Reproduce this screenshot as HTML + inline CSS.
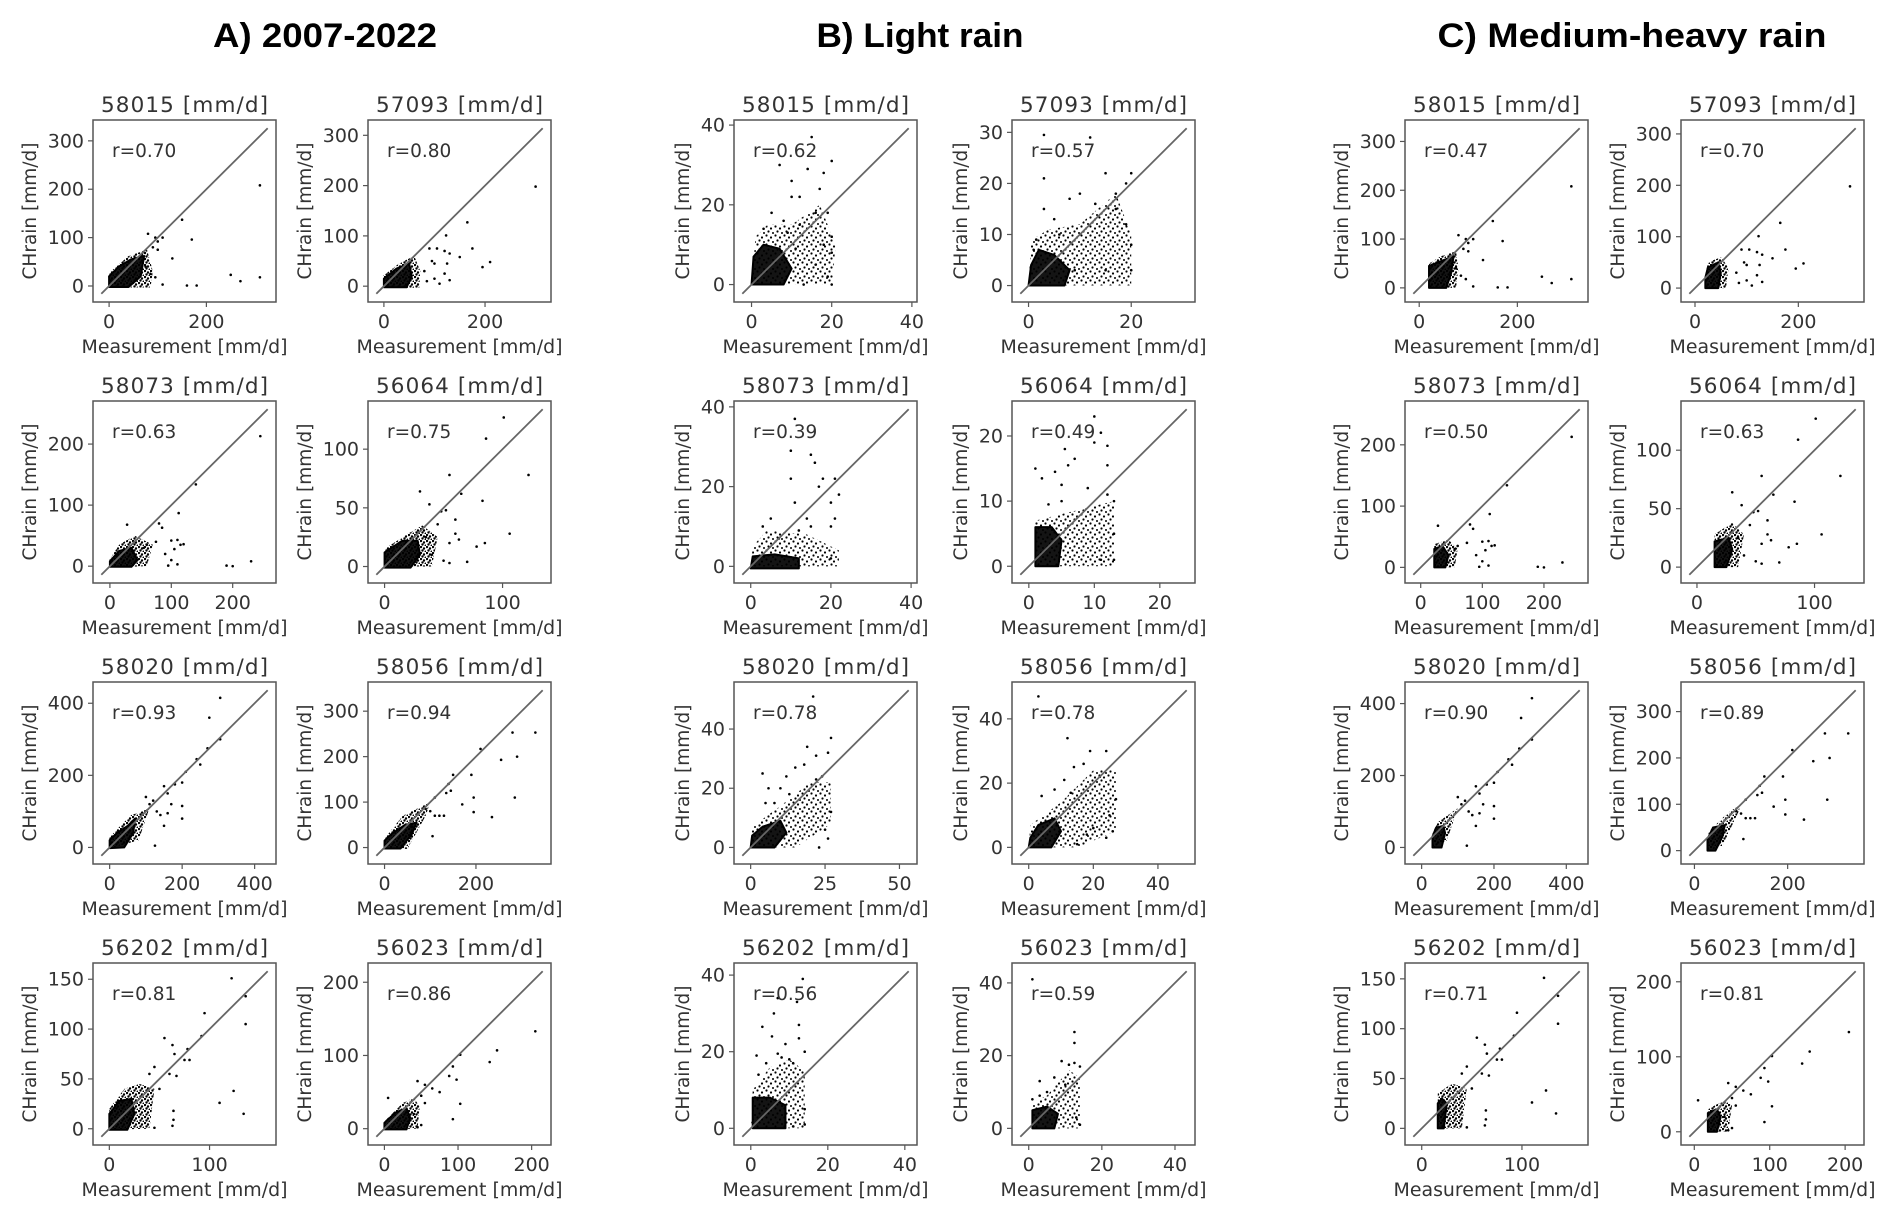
<!DOCTYPE html>
<html><head><meta charset="utf-8">
<style>
html,body{margin:0;padding:0;background:#fff;}
svg{display:block;font-family:"DejaVu Sans","Liberation Sans",sans-serif;}
</style></head>
<body>
<svg id="fig" width="1892" height="1217" viewBox="0 0 1892 1217" xmlns="http://www.w3.org/2000/svg">
<defs>
<pattern id="dotsSparse" width="9" height="9" patternUnits="userSpaceOnUse">
<circle cx="1.5" cy="1.5" r="1.1" fill="#000"/><circle cx="6" cy="3.5" r="1.1" fill="#000"/><circle cx="3.5" cy="6.5" r="1.1" fill="#000"/><circle cx="8" cy="8" r="1" fill="#000"/>
</pattern>
<pattern id="dotsDense" width="6" height="6" patternUnits="userSpaceOnUse">
<circle cx="1" cy="1" r="1.2" fill="#000"/><circle cx="4" cy="2.5" r="1.2" fill="#000"/><circle cx="2.5" cy="4.5" r="1.2" fill="#000"/><circle cx="5.5" cy="5.5" r="1" fill="#000"/>
</pattern>
</defs>
<rect width="1892" height="1217" fill="#fff"/>
<text x="325" y="47" text-anchor="middle" font-family="Liberation Sans, sans-serif" font-weight="bold" font-size="34" textLength="224" lengthAdjust="spacingAndGlyphs" fill="#000">A) 2007-2022</text>
<text x="920" y="47" text-anchor="middle" font-family="Liberation Sans, sans-serif" font-weight="bold" font-size="34" textLength="207" lengthAdjust="spacingAndGlyphs" fill="#000">B) Light rain</text>
<text x="1632" y="47" text-anchor="middle" font-family="Liberation Sans, sans-serif" font-weight="bold" font-size="34" textLength="389" lengthAdjust="spacingAndGlyphs" fill="#000">C) Medium-heavy rain</text>
</svg>
<script>
// ---------- data ----------
const stations = ['58015','57093','58073','56064','58020','58056','56202','56023'];
const rA = ['0.70','0.80','0.63','0.75','0.93','0.94','0.81','0.86'];
const rB = ['0.62','0.57','0.39','0.49','0.78','0.78','0.56','0.59'];
const rC = ['0.47','0.70','0.50','0.63','0.90','0.89','0.71','0.81'];
const loA = [-16,-15,-14,-7,-23,-18,-8,-11];
const hiA = [326,314,257,134,436,346,158,215];
const loB = [-2.3,-1.6,-2.1,-1.3,-2.8,-2.6,-2.2,-2.3];
const hiB = [39.2,30.8,39.4,24.1,53.1,48.9,41,43.2];
const loC = [-12,-11,-12,-6.5,-23,-11,-8.4,-6.6];
const hiC = [327,311,258,135,437,346,157.6,214];
const xticksA = [[0,200],[0,200],[0,100,200],[0,100],[0,200,400],[0,200],[0,100],[0,100,200]];
const yticksA = [[0,100,200,300],[0,100,200,300],[0,100,200],[0,50,100],[0,200,400],[0,100,200,300],[0,50,100,150],[0,100,200]];
const xticksB = [[0,20,40],[0,20],[0,20,40],[0,10,20],[0,25,50],[0,20,40],[0,20,40],[0,20,40]];
const yticksB = [[0,20,40],[0,10,20,30],[0,20,40],[0,10,20],[0,20,40],[0,20,40],[0,20,40],[0,20,40]];

const coreA = [
 [[0,-2],[40,-2],[65,20],[72,62],[45,55],[20,40],[0,20]],
 [[0,-2],[45,-2],[55,20],[50,45],[25,35],[0,15]],
 [[0,-1],[35,-1],[45,10],[35,30],[15,25],[0,8]],
 [[0,-1],[22,-1],[30,10],[28,22],[15,22],[0,12]],
 [[0,-2],[40,0],[65,40],[70,80],[50,60],[20,40],[0,20]],
 [[0,-2],[35,-2],[60,30],[70,55],[45,50],[15,30],[0,15]],
 [[0,-1],[18,-1],[25,15],[22,30],[10,28],[0,15]],
 [[0,-1],[30,-1],[35,15],[30,28],[15,22],[0,8]]
];
const haloA = [
 [[0,-3],[85,-3],[90,30],[78,75],[40,62],[-2,25]],
 [[0,-3],[70,-3],[72,30],[60,60],[30,45],[-2,20]],
 [[0,-2],[60,0],[70,35],[40,50],[15,35],[-1,10]],
 [[0,0],[40,0],[45,25],[32,35],[20,28],[0,15]],
 [[0,-3],[80,20],[110,110],[90,100],[60,90],[20,50],[-2,25]],
 [[0,-3],[50,-3],[90,70],[100,100],[80,90],[40,70],[0,20]],
 [[0,-1],[40,0],[45,40],[30,45],[15,40],[0,20]],
 [[0,-1],[45,0],[48,30],[40,42],[25,35],[0,10]]
];
const ptsA = [
 [[310,208],[150,137],[170,96],[130,57],[250,23],[270,10],[310,18],[160,1],[180,1],[110,3],[80,108],[95,100],[110,100],[100,92],[90,80],[95,18],[100,75],[70,70],[75,40],[85,25]],
 [[300,198],[165,127],[123,101],[175,75],[210,48],[195,38],[150,58],[95,50],[100,45],[105,75],[120,70],[125,45],[130,65],[90,75],[120,25],[100,15],[130,12],[85,10],[110,5],[80,30]],
 [[245,213],[140,134],[112,87],[80,70],[85,63],[28,68],[190,1],[200,0],[230,8],[110,43],[100,42],[105,28],[115,35],[120,36],[95,1],[110,3],[75,40],[60,35],[55,30],[90,20],[100,10]],
 [[101,127],[86,109],[55,78],[122,78],[65,62],[30,64],[38,53],[83,56],[52,48],[48,47],[60,40],[45,36],[60,28],[55,20],[63,23],[78,17],[85,20],[106,28],[70,4],[55,3],[50,5],[40,10],[35,25]],
 [[305,415],[275,360],[305,300],[270,275],[240,245],[250,230],[210,210],[200,180],[180,175],[150,170],[160,150],[200,115],[200,80],[160,95],[150,60],[125,5],[140,90],[170,120],[120,130],[110,120],[100,140],[130,100]],
 [[330,253],[280,253],[210,217],[190,160],[290,200],[255,193],[195,110],[285,110],[235,67],[195,78],[170,95],[150,160],[140,140],[135,120],[145,125],[110,110],[120,70],[130,70],[105,25],[90,85],[100,80],[60,45],[110,70]],
 [[122,151],[95,116],[136,133],[136,105],[92,93],[63,84],[55,91],[65,75],[78,80],[75,69],[80,69],[67,53],[60,55],[45,62],[50,40],[64,18],[64,9],[63,3],[45,1],[110,26],[124,38],[134,15],[40,55]],
 [[205,133],[153,107],[143,91],[103,101],[93,85],[88,72],[98,67],[103,34],[93,13],[75,50],[65,55],[55,60],[45,65],[55,35],[50,45],[5,42],[40,20],[50,5],[45,2]]
];

const coreB = [
 [[0,0],[8,0],[10,4],[7,9],[3,10],[0.5,7]],
 [[0,0],[7,0],[8,3],[5,6],[2,7],[0.5,4]],
 [[0,-0.5],[12,-0.5],[12,2],[6,3],[0.5,2.5]],
 [[1,0],[4.5,0],[5,4],[3.5,6],[1,6]],
 [[0,0],[8,0],[12,5],[10,9],[4,7],[0.5,4]],
 [[0,0],[7,0],[10,5],[8,9],[3,7],[0.5,3]],
 [[0.5,0],[9,0],[9,6],[5,8],[0.5,8]],
 [[1,0],[7,0],[8,4],[5,6],[1,5]]
];
const haloB = [
 [[0,0],[20,0],[21,10],[17,20],[10,15],[4,15],[1,12]],
 [[0,0],[20,0],[20,10],[17,18],[10,12],[4,11],[0.5,9]],
 [[0,0],[22,0],[22,4],[14,8],[4,9],[0.5,5]],
 [[1,0],[13,0],[13,10],[9,9],[5,8],[1,7]],
 [[0,0],[15,0],[27,8],[27,22],[20,22],[10,14],[0.5,7]],
 [[0,0],[15,0],[27,5],[27,24],[20,24],[10,14],[0.5,7]],
 [[0,0],[14,0],[14,15],[10,18],[5,16],[0.5,10]],
 [[1,0],[14,0],[14,14],[11,16],[5,9],[1,7]]
];
const ptsB = [
 [[15,37],[20,31],[7,30],[14,29],[18,28],[10,26],[10,22],[12,22],[17,24],[16,18],[19,18],[5,18],[12,15],[3,14],[8,16],[20,12],[18,10],[20,8],[16,5],[19,2],[20,0],[13,0],[9,13],[11,9]],
 [[3,29.5],[12,29],[3,21],[15,22],[20,22],[19,20],[10,18],[13,16],[17,18],[3,15],[8,17],[5,13],[6,10],[19,12],[17,15],[20,8],[20,3],[15,3],[9,3],[1,7],[1.5,9]],
 [[11,37],[10,29],[15,28],[16,26],[10,22],[18,22],[21,22],[17,20],[22,18],[20,16],[11,16],[14,12],[21,12],[5,12],[3,10],[12,9],[15,10],[20,10],[20,2],[7,7]],
 [[10,23],[12,18.5],[10,19],[11,20.5],[5.5,18],[7,16.5],[6,15.5],[1,15],[2,13.5],[4,14.5],[5,12.5],[12,15.5],[9,12],[12,11],[13,10],[5,10],[3,9.5],[13,5],[13,1],[11,1]],
 [[21,51],[27,37],[26,32],[22,31],[19,34],[18,28],[15,27],[12,24],[4,25],[24,24],[22,23],[25,6],[23,0],[26,3],[27,12],[10,20],[6,20],[13,18],[5,15],[8,15]],
 [[3,47],[12,34],[14,25],[19,30],[24,30],[17,26],[22,22],[11,21],[4,16],[8,18],[13,17],[27,15],[25,10],[26,5],[24,3],[20,6],[15,1],[18,4]],
 [[13.5,39],[7,34],[12,33],[6,30],[12.5,27],[3,26.5],[5.5,24],[12.5,23.5],[9,22],[14,20],[1.5,19],[7,19.5],[8,18.5],[10,18],[4,17],[11,17],[2,14],[14,5],[14,1],[11,0.5]],
 [[1,41],[12.5,26.5],[12.5,23.5],[9,18.5],[12.5,18],[11,17.5],[14,17],[3,13],[7,14],[5,10],[10,12],[1,8],[3,9],[14,1],[13,3]]
];

const coreC = [
 [[20,0],[55,0],[65,30],[70,65],[45,55],[20,45]],
 [[20,0],[45,0],[50,30],[45,50],[25,40],[20,20]],
 [[22,0],[40,0],[45,20],[35,35],[22,30]],
 [[15,0],[25,0],[30,15],[27,25],[15,22]],
 [[30,0],[55,0],[65,40],[60,60],[40,55],[30,30]],
 [[28,0],[45,0],[60,30],[65,55],[40,50],[28,25]],
 [[16,0],[22,0],[25,25],[20,30],[16,25]],
 [[18,0],[30,0],[35,20],[30,30],[18,25]]
];
const haloC = [
 [[20,0],[75,0],[80,40],[75,75],[45,65],[20,50]],
 [[20,0],[60,0],[65,40],[50,60],[25,50],[20,25]],
 [[22,0],[55,0],[60,30],[45,45],[22,38]],
 [[15,0],[35,0],[40,28],[30,38],[15,28]],
 [[30,0],[70,20],[100,110],[80,95],[45,70],[30,40]],
 [[28,0],[60,10],[95,85],[100,100],[70,80],[30,40]],
 [[16,0],[40,0],[45,40],[30,45],[16,35]],
 [[18,0],[45,0],[50,35],[40,42],[18,30]]
];
const ptsC = ptsA;

// ---------- layout ----------
const colX = {A:[93,368], B:[734,1012], C:[1405,1681]};
const rowY = [120,401,682,963];
const W = 183, H = 182;
const svg = document.getElementById('fig');
const NS = 'http://www.w3.org/2000/svg';
function mk(tag, attrs, parent){
  const e = document.createElementNS(NS, tag);
  for (const k in attrs) e.setAttribute(k, attrs[k]);
  (parent||svg).appendChild(e);
  return e;
}
let clipId = 0;
function drawSub(panel, i, r, lo, hi, xt, yt, core, halo, pts, haloFill){
  const x0 = colX[panel][i%2], y0 = rowY[Math.floor(i/2)];
  const m = 0.05*(hi-lo), dmin = lo-m, dmax = hi+m;
  const sx = v => x0 + (v-dmin)/(dmax-dmin)*W;
  const sy = v => y0 + H - (v-dmin)/(dmax-dmin)*H;
  const g = mk('g', {});
  
  
  const id = 'clip'+(clipId++);
  const cp = mk('clipPath', {id:id}, g);
  mk('rect', {x:x0, y:y0, width:W, height:H}, cp);
  const plot = mk('g', {'clip-path':'url(#'+id+')'}, g);
  const hp = mk('polygon', {points: halo.map(p=>sx(p[0])+','+sy(p[1])).join(' '), fill:'url(#'+haloFill+')'}, plot);
  
  
  const cpoly = mk('polygon', {points: core.map(p=>sx(p[0])+','+sy(p[1])).join(' '), fill:'#000', 'fill-opacity':0.92, stroke:'#000', 'stroke-width':2, 'stroke-linejoin':'round'}, plot);
  
  
  pts.forEach(p=>{
    const c = mk('circle', {cx:sx(p[0]), cy:sy(p[1]), r:1.3, fill:'#000'}, plot);
    
    
  });
  const ln = mk('line', {x1:sx(lo), y1:sy(lo), x2:sx(hi), y2:sy(hi), stroke:'#666', 'stroke-width':1.8}, plot);
  
  
  const fr = mk('rect', {x:x0, y:y0, width:W, height:H, fill:'none', stroke:'#555', 'stroke-width':1.5}, g);
  
  
  xt.forEach(v=>{
    mk('line', {x1:sx(v), y1:y0+H, x2:sx(v), y2:y0+H+5, stroke:'#555', 'stroke-width':1.2}, g);
    const t = mk('text', {x:sx(v), y:y0+H+26, 'text-anchor':'middle', 'font-size':19, fill:'#333'}, g);
    t.textContent = v;
    
    
  });
  let maxw = 0;
  yt.forEach(v=>{
    mk('line', {x1:x0-5, y1:sy(v), x2:x0, y2:sy(v), stroke:'#555', 'stroke-width':1.2}, g);
    const t = mk('text', {x:x0-9, y:sy(v)+6.5, 'text-anchor':'end', 'font-size':19, fill:'#333'}, g);
    t.textContent = v;
    
    
    maxw = Math.max(maxw, String(v).length*11.8);
  });
  const tt = mk('text', {x:x0+W/2, y:y0-8, 'text-anchor':'middle', 'font-size':21.5, fill:'#333', textLength:167, lengthAdjust:'spacing'}, g);
  tt.textContent = stations[i]+'  [mm/d]';
  tt.setAttribute('xml:space','preserve');
  
  
  const rt = mk('text', {x:x0+19, y:y0+37, 'font-size':18.5, fill:'#333'}, g);
  rt.textContent = 'r='+r;
  
  
  const xl = mk('text', {x:x0+W/2, y:y0+H+51, 'text-anchor':'middle', 'font-size':18.5, fill:'#333', textLength:206, lengthAdjust:'spacingAndGlyphs'}, g);
  xl.textContent = 'Measurement [mm/d]';
  
  
  const yx = x0 - 9 - maxw - 19, yy = y0 + H/2;
  const yl = mk('text', {x:yx, y:yy, 'text-anchor':'middle', 'font-size':18.5, fill:'#333', transform:'rotate(-90 '+yx+' '+yy+')', dy:'0.35em'}, g);
  yl.textContent = 'CHrain [mm/d]';
  
  
}
for (let i=0;i<8;i++){
  drawSub('A', i, rA[i], loA[i], hiA[i], xticksA[i], yticksA[i], coreA[i], haloA[i], ptsA[i], 'dotsDense');
  drawSub('B', i, rB[i], loB[i], hiB[i], xticksB[i], yticksB[i], coreB[i], haloB[i], ptsB[i], 'dotsSparse');
  drawSub('C', i, rC[i], loC[i], hiC[i], xticksA[i], yticksA[i], coreC[i], haloC[i], ptsC[i], 'dotsDense');
}
</script>
</body></html>
